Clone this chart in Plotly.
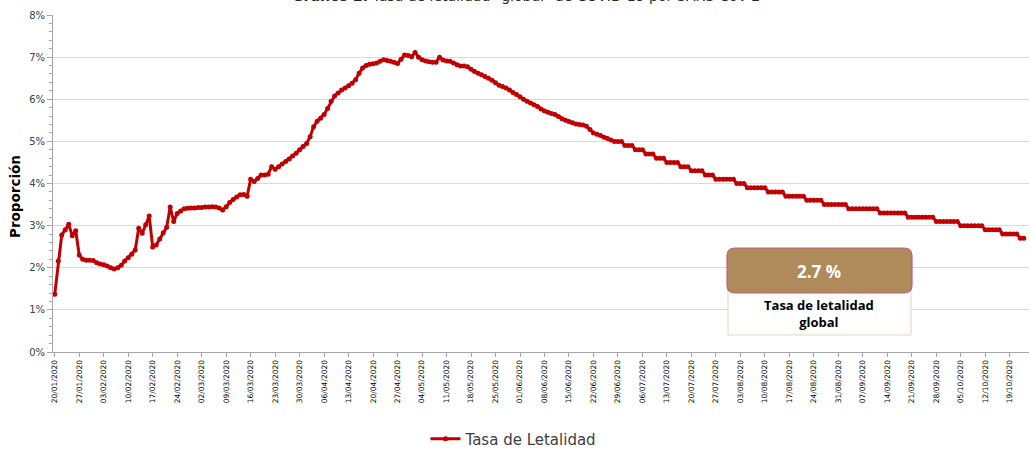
import plotly.graph_objects as go
import pandas as pd

# ---------------- data ----------------
start_date = "2020-01-20"
tasa_letalidad = [
    1.37, 2.16, 2.78, 2.90, 3.03, 2.76, 2.88, 2.30, 2.20, 2.18,
    2.18, 2.17, 2.12, 2.09, 2.07, 2.04, 2.00, 1.97, 2.00, 2.06,
    2.16, 2.24, 2.32, 2.42, 2.94, 2.82, 3.02, 3.23, 2.49, 2.54,
    2.68, 2.83, 2.96, 3.44, 3.10, 3.29, 3.35, 3.40, 3.41, 3.42,
    3.42, 3.43, 3.43, 3.44, 3.44, 3.45, 3.44, 3.42, 3.37, 3.45,
    3.55, 3.62, 3.68, 3.73, 3.74, 3.70, 4.10, 4.05, 4.12, 4.20,
    4.20, 4.22, 4.40, 4.34, 4.40, 4.46, 4.52, 4.58, 4.65, 4.72,
    4.80, 4.88, 4.95, 5.11, 5.35, 5.48, 5.55, 5.64, 5.78, 5.95,
    6.08, 6.15, 6.22, 6.27, 6.32, 6.38, 6.46, 6.62, 6.74, 6.80,
    6.83, 6.84, 6.86, 6.90, 6.94, 6.92, 6.90, 6.88, 6.85, 6.95,
    7.05, 7.04, 7.01, 7.11, 7.00, 6.94, 6.91, 6.89, 6.88, 6.88,
    7.00, 6.93, 6.91, 6.90, 6.86, 6.82, 6.79, 6.79, 6.77, 6.71,
    6.66, 6.62, 6.58, 6.54, 6.50, 6.45, 6.39, 6.33, 6.30, 6.27,
    6.22, 6.16, 6.11, 6.06, 6.00, 5.95, 5.91, 5.87, 5.83, 5.77,
    5.72, 5.69, 5.66, 5.64, 5.59, 5.54, 5.50, 5.47, 5.44, 5.41,
    5.40, 5.39, 5.36, 5.28, 5.20, 5.17, 5.14, 5.10, 5.07, 5.03,
    5.00, 5.00, 5.00, 4.90, 4.90, 4.90, 4.80, 4.80, 4.80, 4.70,
    4.70, 4.70, 4.60, 4.60, 4.60, 4.50, 4.50, 4.50, 4.50, 4.40,
    4.40, 4.40, 4.30, 4.30, 4.30, 4.30, 4.20, 4.20, 4.20, 4.10,
    4.10, 4.10, 4.10, 4.10, 4.10, 4.00, 4.00, 4.00, 3.90, 3.90,
    3.90, 3.90, 3.90, 3.90, 3.80, 3.80, 3.80, 3.80, 3.80, 3.70,
    3.70, 3.70, 3.70, 3.70, 3.70, 3.60, 3.60, 3.60, 3.60, 3.60,
    3.50, 3.50, 3.50, 3.50, 3.50, 3.50, 3.50, 3.40, 3.40, 3.40,
    3.40, 3.40, 3.40, 3.40, 3.40, 3.40, 3.30, 3.30, 3.30, 3.30,
    3.30, 3.30, 3.30, 3.30, 3.20, 3.20, 3.20, 3.20, 3.20, 3.20,
    3.20, 3.20, 3.10, 3.10, 3.10, 3.10, 3.10, 3.10, 3.10, 3.00,
    3.00, 3.00, 3.00, 3.00, 3.00, 3.00, 2.90, 2.90, 2.90, 2.90,
    2.90, 2.80, 2.80, 2.80, 2.80, 2.80, 2.70, 2.70,
]
tick_dates = [
    "2020-01-20", "2020-01-27", "2020-02-03", "2020-02-10", "2020-02-17", "2020-02-24",
    "2020-03-02", "2020-03-09", "2020-03-16", "2020-03-23", "2020-03-30", "2020-04-06",
    "2020-04-13", "2020-04-20", "2020-04-27", "2020-05-04", "2020-05-11", "2020-05-18",
    "2020-05-25", "2020-06-01", "2020-06-08", "2020-06-15", "2020-06-22", "2020-06-29",
    "2020-07-06", "2020-07-13", "2020-07-20", "2020-07-27", "2020-08-03", "2020-08-10",
    "2020-08-17", "2020-08-24", "2020-08-31", "2020-09-07", "2020-09-14", "2020-09-21",
    "2020-09-28", "2020-10-05", "2020-10-12", "2020-10-19",
]
tick_labels = [pd.Timestamp(d).strftime("%d/%m/%Y") for d in tick_dates]
y_ticks = [0, 1, 2, 3, 4, 5, 6, 7, 8]
y_tick_labels = ["0%", "1%", "2%", "3%", "4%", "5%", "6%", "7%", "8%"]
ultimo_valor = "2.7 %"
series_name = "Tasa de Letalidad"

dates = pd.date_range(start_date, periods=len(tasa_letalidad), freq="D")

# ---------------- figure ----------------
RED = "#C00000"
fig = go.Figure()
fig.add_trace(go.Scatter(
    x=dates, y=tasa_letalidad, mode="lines+markers", name=series_name,
    line=dict(color=RED, width=3),
    marker=dict(color=RED, size=5, symbol="circle"),
))

# layout geometry (pixels)
W, H = 1030, 449
ML, MR, MT, MB = 53, 1, 15, 97
PW, PH = W - ML - MR, H - MT - MB


def px2x(px):
    return (px - ML) / PW


def px2y(py):
    return (H - MB - py) / PH


def rounded_rect(x0p, y0p, x1p, y1p, r):
    x0, x1 = px2x(x0p), px2x(x1p)
    yb, yt = px2y(y1p), px2y(y0p)
    rx, ry = r / PW, r / PH
    return (f"M {x0+rx},{yb} L {x1-rx},{yb} Q {x1},{yb} {x1},{yb+ry} "
            f"L {x1},{yt-ry} Q {x1},{yt} {x1-rx},{yt} L {x0+rx},{yt} "
            f"Q {x0},{yt} {x0},{yt-ry} L {x0},{yb+ry} Q {x0},{yb} {x0+rx},{yb} Z")


shapes = [
    dict(type="rect", xref="paper", yref="paper",
         x0=px2x(728), x1=px2x(911), y0=px2y(335), y1=px2y(285),
         fillcolor="white", line=dict(color="#E6D5B8", width=1), layer="above"),
    dict(type="path", xref="paper", yref="paper",
         path=rounded_rect(727, 248, 912, 293, 8),
         fillcolor="#AF8A5A", line=dict(color="#C0607A", width=1.2), layer="above"),
]

annotations = [
    dict(text="<b>Gráfico 2.</b> Tasa de letalidad \"global\" de COVID-19 por SARS-CoV-2",
         xref="paper", yref="paper", x=px2x(526), y=px2y(-4), showarrow=False,
         xanchor="center", yanchor="middle",
         font=dict(family="DejaVu Sans", size=14, color="#262626")),
    dict(text="<b>Proporción</b>", xref="paper", yref="paper",
         x=px2x(15), y=px2y(197), showarrow=False, textangle=-90,
         xanchor="center", yanchor="middle",
         font=dict(family="DejaVu Sans", size=13.5, color="#000000")),
    dict(text="<b>" + ultimo_valor + "</b>", xref="paper", yref="paper",
         x=px2x(819), y=px2y(271), showarrow=False,
         xanchor="center", yanchor="middle",
         font=dict(family="Open Sans", size=17, color="#FFFFFF")),
    dict(text="<b>Tasa de letalidad<br>global</b>", xref="paper", yref="paper",
         x=px2x(819), y=px2y(313), showarrow=False,
         xanchor="center", yanchor="middle",
         font=dict(family="Open Sans", size=13, color="#000000")),
]

fig.update_layout(
    width=W, height=H,
    margin=dict(l=ML, r=MR, t=MT, b=MB, autoexpand=False),
    paper_bgcolor="white", plot_bgcolor="white",
    showlegend=True,
    legend=dict(orientation="h", x=px2x(514), y=px2y(439), xanchor="center", yanchor="middle",
                font=dict(family="DejaVu Sans", size=15, color="#404040"),
                itemwidth=30),
    xaxis=dict(
        type="date",
        range=["2020-01-19 12:00", "2020-10-24 12:00"],
        tickvals=tick_dates, ticktext=tick_labels, tickangle=-90,
        tickfont=dict(family="DejaVu Sans", size=7.5, color="#000000"),
        showgrid=False, showline=True, linecolor="#A6A6A6", linewidth=1,
        ticks="outside", ticklen=4, tickcolor="#A6A6A6",
        zeroline=False, automargin=False,
    ),
    yaxis=dict(
        range=[0, 8], tickvals=y_ticks, ticktext=y_tick_labels,
        tickfont=dict(family="DejaVu Sans", size=10, color="#404040"),
        showgrid=True, gridcolor="#D9D9D9", gridwidth=1,
        showline=True, linecolor="#A6A6A6", linewidth=1,
        ticks="outside", ticklen=5, tickcolor="#A6A6A6",
        minor=dict(dtick=0.2, ticks="outside", ticklen=3, tickcolor="#A6A6A6", showgrid=False),
        zeroline=False, automargin=False,
    ),
    shapes=shapes,
    annotations=annotations,
)

fig.write_html(
    "out.html",
    config={"displayModeBar": False},
    post_script="document.body.style.margin='0';document.body.style.padding='0';"
                "document.body.style.overflow='hidden';",
)
